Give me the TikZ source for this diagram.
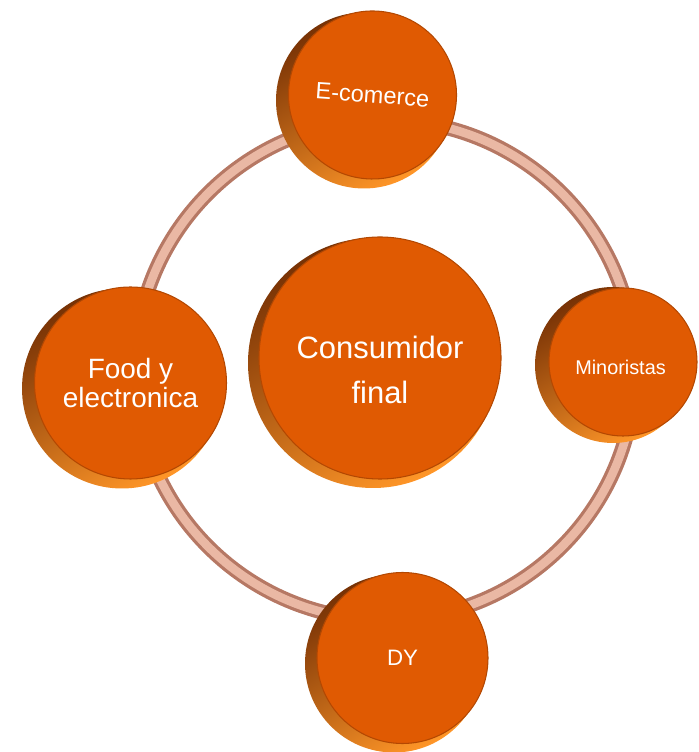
\documentclass[tikz,border=0pt]{standalone}
\usepackage{fontspec}
\setmainfont{Liberation Sans}
\definecolor{faceor}{RGB}{224,90,2}
\definecolor{rimlo}{RGB}{255,150,40}
\definecolor{rimhi}{RGB}{120,50,5}
\definecolor{ringout}{RGB}{182,120,100}
\definecolor{ringin}{RGB}{234,184,164}

\begin{document}
\begin{tikzpicture}[
  disk/.style={circle, fill=faceor, draw=faceor!80!black, line width=0.6pt,
    text=white, align=center, inner sep=0pt},
  rim/.style={top color=rimhi, bottom color=rimlo, shading angle=30},
  lbl/.style 2 args={text=white, align=center, font=\fontsize{#1}{#2}\selectfont}
]
\useasboundingbox (0,0) rectangle (13.96,15.04);

\coordinate (c-ring) at (7.7,7.64);
\coordinate (c-core) at (7.56,7.84);
\coordinate (c-ecom) at (7.40,13.10);
\coordinate (c-mino) at (12.40,7.78);
\coordinate (c-food) at (2.56,7.34);
\coordinate (c-dy) at (8.00,1.84);

% ring
\draw[ringout, line width=0.30cm] (c-ring) circle (5.0);
\draw[ringin, line width=0.17cm] (c-ring) circle (5.0);

% rims
\shade[rim] ([shift={(-0.10,-0.06)}]c-core) circle (2.50);
\shade[rim] ([shift={(-0.12,-0.07)}]c-ecom) circle (1.76);
\shade[rim] ([shift={(-0.14,-0.04)}]c-mino) circle (1.56);
\shade[rim] ([shift={(-0.12,-0.07)}]c-food) circle (2.00);
\shade[rim] ([shift={(-0.12,-0.07)}]c-dy) circle (1.78);

\node[disk, minimum size=4.84cm] (core) at ([shift={(0.04,0.04)}]c-core) {};
\node[lbl={17.6}{24}] (core-t) at ([yshift=-0.24cm]core.center) {Consumidor\\[0.06cm]final};
\node[disk, minimum size=3.36cm, font=\fontsize{13.4}{16}\selectfont, rotate=-4] (ecom) at ([shift={(0.05,0.04)}]c-ecom) {E-comerce};
\node[disk, minimum size=2.96cm] (mino) at ([shift={(0.06,0.02)}]c-mino) {};
\node[lbl={11.3}{14}] (mino-t) at ([shift={(-0.05,-0.1)}]mino.center) {Minoristas};
\node[disk, minimum size=3.84cm, font=\fontsize{15.9}{17}\selectfont] (food) at ([shift={(0.05,0.04)}]c-food) {Food y\\electronica};
\node[disk, minimum size=3.42cm, font=\fontsize{12.7}{15}\selectfont] (dy) at ([shift={(0.05,0.04)}]c-dy) {DY};

\end{tikzpicture}
\end{document}
